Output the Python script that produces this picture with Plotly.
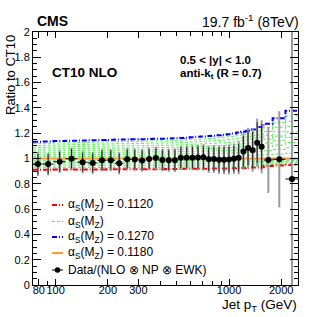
import math
import plotly.graph_objects as go

# ---------------- data ----------------
pt_edges = [74, 84, 97, 114, 133, 153, 174, 196, 220, 245, 272, 300, 330, 362, 395,
            430, 468, 507, 548, 592, 638, 686, 737, 790, 846, 905, 967, 1032, 1101,
            1172, 1248, 1327, 1410, 1497, 1588, 1784, 2116, 2500]

data_ratio = [0.956, 0.956, 0.975, 0.998, 0.971, 0.965, 0.986, 0.987, 0.962, 0.995,
              0.992, 0.985, 0.996, 1.003, 0.988, 0.987, 0.987, 1.006, 1.006, 1.006,
              1.007, 1.009, 0.994, 0.996, 0.991, 0.991, 0.992, 0.998, 1.005, 1.055,
              1.083, 1.065, 1.125, 1.093, 0.988, 0.994, 0.838]

err_total = [0.095, 0.09, 0.09, 0.09, 0.088, 0.088, 0.088, 0.088, 0.088, 0.088,
             0.088, 0.09, 0.09, 0.09, 0.09, 0.092, 0.094, 0.096, 0.098, 0.1,
             0.102, 0.105, 0.108, 0.11, 0.112, 0.115, 0.118, 0.12, 0.13, 0.145,
             0.16, 0.17, 0.19, 0.21, 0.26, 0.38, 1.5]

err_stat = [0.08, 0.077, 0.077, 0.077, 0.075, 0.075, 0.075, 0.075, 0.075, 0.075,
            0.075, 0.077, 0.077, 0.077, 0.077, 0.078, 0.08, 0.082, 0.083, 0.085,
            0.087, 0.09, 0.092, 0.094, 0.095, 0.098, 0.1, 0.102, 0.11, 0.123,
            0.136, 0.145, 0.16, 0.18, 0.0, 0.0, 0.0]

ratio_as_1120 = [.912, .912, .913, .913, .914, .914, .914, .915, .915, .915, .915, .916, .916,
                 .916, .916, .917, .917, .917, .918, .918, .918, .919, .919, .920, .920, .920,
                 .921, .922, .924, .925, .927, .928, .929, .930, .940, .945, .949]

ratio_as_1270 = [1.133, 1.135, 1.138, 1.140, 1.142, 1.144, 1.146, 1.148, 1.150, 1.151, 1.152,
                 1.153, 1.155, 1.156, 1.157, 1.158, 1.160, 1.162, 1.165, 1.168, 1.171, 1.174,
                 1.177, 1.180, 1.184, 1.188, 1.192, 1.197, 1.205, 1.212, 1.220, 1.230, 1.240,
                 1.250, 1.275, 1.318, 1.378]

ratio_as_1180 = [1.0, 1.0, 1.0, 1.0, 1.0, 1.0, 1.0, 1.0, 1.0, 1.0, 1.0, 1.0, 1.0, 1.0, 1.0,
                 1.0, 1.0, 1.0, 1.0, 1.0, 1.0, 1.0, 1.0, 1.0, 1.0, 1.0, 1.0, 1.0, 1.0, 1.0,
                 1.0, 1.0, 1.0, 1.0, 1.0, 1.0, 1.0]

ratio_as_1130 = [.927, .927, .928, .928, .928, .928, .928, .929, .929, .929, .929, .930, .930,
                 .930, .930, .931, .931, .931, .932, .932, .932, .933, .933, .933, .933, .933,
                 .934, .935, .937, .938, .939, .940, .941, .942, .950, .954, .958]
ratio_as_1140 = [.941, .941, .942, .942, .943, .943, .943, .943, .943, .943, .943, .944, .944,
                 .944, .944, .945, .945, .945, .945, .945, .945, .946, .946, .947, .947, .947,
                 .947, .948, .949, .950, .951, .952, .953, .953, .960, .963, .966]
ratio_as_1150 = [.956, .956, .957, .957, .957, .957, .957, .958, .958, .958, .958, .958, .958,
                 .958, .958, .959, .959, .959, .959, .959, .959, .960, .960, .960, .960, .960,
                 .961, .961, .962, .963, .963, .964, .965, .965, .970, .972, .975]
ratio_as_1160 = [.971, .971, .971, .971, .971, .971, .971, .972, .972, .972, .972, .972, .972,
                 .972, .972, .972, .972, .972, .973, .973, .973, .973, .973, .973, .973, .973,
                 .974, .974, .975, .975, .976, .976, .976, .977, .980, .982, .983]
ratio_as_1170 = [.985, .985, .986, .986, .986, .986, .986, .986, .986, .986, .986, .986, .986,
                 .986, .986, .986, .986, .986, .986, .986, .986, .987, .987, .987, .987, .987,
                 .987, .987, .987, .988, .988, .988, .988, .988, .990, .991, .992]
ratio_as_1190 = [1.015, 1.015, 1.015, 1.016, 1.016, 1.016, 1.016, 1.016, 1.017, 1.017, 1.017,
                 1.017, 1.017, 1.017, 1.017, 1.018, 1.018, 1.018, 1.018, 1.019, 1.019, 1.019,
                 1.020, 1.020, 1.020, 1.021, 1.021, 1.022, 1.023, 1.024, 1.024, 1.026, 1.027,
                 1.028, 1.031, 1.035, 1.042]
ratio_as_1200 = [1.030, 1.030, 1.031, 1.031, 1.032, 1.032, 1.032, 1.033, 1.033, 1.034, 1.034,
                 1.034, 1.034, 1.035, 1.035, 1.035, 1.036, 1.036, 1.037, 1.037, 1.038, 1.039,
                 1.039, 1.040, 1.041, 1.042, 1.043, 1.044, 1.046, 1.047, 1.049, 1.051, 1.053,
                 1.056, 1.061, 1.071, 1.084]
ratio_as_1210 = [1.044, 1.045, 1.046, 1.047, 1.047, 1.048, 1.049, 1.049, 1.050, 1.050, 1.051,
                 1.051, 1.052, 1.052, 1.052, 1.053, 1.053, 1.054, 1.055, 1.056, 1.057, 1.058,
                 1.059, 1.060, 1.061, 1.063, 1.064, 1.066, 1.068, 1.071, 1.073, 1.077, 1.080,
                 1.083, 1.092, 1.106, 1.126]
ratio_as_1220 = [1.059, 1.060, 1.061, 1.062, 1.063, 1.064, 1.065, 1.066, 1.067, 1.067, 1.068,
                 1.068, 1.069, 1.069, 1.070, 1.070, 1.071, 1.072, 1.073, 1.075, 1.076, 1.077,
                 1.079, 1.080, 1.082, 1.084, 1.085, 1.088, 1.091, 1.094, 1.098, 1.102, 1.107,
                 1.111, 1.122, 1.141, 1.168]
ratio_as_1230 = [1.074, 1.075, 1.077, 1.078, 1.079, 1.080, 1.081, 1.082, 1.083, 1.084, 1.084,
                 1.085, 1.086, 1.087, 1.087, 1.088, 1.089, 1.090, 1.092, 1.093, 1.095, 1.097,
                 1.098, 1.100, 1.102, 1.104, 1.107, 1.109, 1.114, 1.118, 1.122, 1.128, 1.133,
                 1.139, 1.153, 1.177, 1.210]
ratio_as_1240 = [1.089, 1.090, 1.092, 1.093, 1.095, 1.096, 1.097, 1.099, 1.100, 1.101, 1.101,
                 1.102, 1.103, 1.104, 1.105, 1.105, 1.107, 1.108, 1.110, 1.112, 1.114, 1.116,
                 1.118, 1.120, 1.123, 1.125, 1.128, 1.131, 1.137, 1.142, 1.147, 1.153, 1.160,
                 1.167, 1.183, 1.212, 1.252]
ratio_as_1250 = [1.103, 1.105, 1.107, 1.109, 1.110, 1.112, 1.114, 1.115, 1.117, 1.117, 1.118,
                 1.119, 1.121, 1.121, 1.122, 1.123, 1.124, 1.126, 1.128, 1.131, 1.133, 1.135,
                 1.138, 1.140, 1.143, 1.146, 1.149, 1.153, 1.160, 1.165, 1.171, 1.179, 1.187,
                 1.194, 1.214, 1.247, 1.294]
ratio_as_1260 = [1.118, 1.120, 1.123, 1.124, 1.126, 1.128, 1.130, 1.132, 1.133, 1.134, 1.135,
                 1.136, 1.138, 1.139, 1.140, 1.140, 1.142, 1.144, 1.147, 1.149, 1.152, 1.155,
                 1.157, 1.160, 1.164, 1.167, 1.171, 1.175, 1.182, 1.189, 1.196, 1.204, 1.213,
                 1.222, 1.244, 1.283, 1.336]

green_curves = [ratio_as_1130, ratio_as_1140, ratio_as_1150, ratio_as_1160, ratio_as_1170,
                ratio_as_1190, ratio_as_1200, ratio_as_1210, ratio_as_1220, ratio_as_1230,
                ratio_as_1240, ratio_as_1250, ratio_as_1260]

x_ticks = [80, 100, 200, 300, 1000, 2000]
x_minor = [90, 400, 500, 600, 700, 800, 900]

# ---------------- figure ----------------
FONT = "Liberation Sans, Arial, Helvetica, sans-serif"
W, H = 332, 317
L, R, T, B = 33, 34, 32, 32
PW, PH = W - L - R, H - T - B


def px(x):
    return (x - L) / PW


def py(y):
    return (H - B - y) / PH


def step(vals):
    return dict(x=pt_edges, y=list(vals) + [vals[-1]], mode="lines", line_shape="hv",
                showlegend=False, hoverinfo="skip")


fig = go.Figure()
for g in green_curves:
    fig.add_trace(go.Scatter(**step(g), line=dict(color="#55ee55", width=1, dash="3px,2px")))
fig.add_trace(go.Scatter(**step(ratio_as_1120),
                         line=dict(color="#ff0000", width=2, dash="5px,2px,1px,2px")))
fig.add_trace(go.Scatter(**step(ratio_as_1270),
                         line=dict(color="#0000ff", width=2, dash="5px,2px,1px,2px")))
fig.add_trace(go.Scatter(**step(ratio_as_1180), line=dict(color="#ff9933", width=2)))

centers = [(a + b) / 2 for a, b in zip(pt_edges[:-1], pt_edges[1:])]
halfw = [(b - a) / 2 for a, b in zip(pt_edges[:-1], pt_edges[1:])]

fig.add_trace(go.Scatter(x=centers, y=data_ratio, mode="markers",
                         marker=dict(size=0.1, color="rgba(0,0,0,0)"),
                         error_y=dict(type="data", array=err_total, color="#9a9a9a",
                                      thickness=2, width=0),
                         showlegend=False, hoverinfo="skip"))
fig.add_trace(go.Scatter(x=centers, y=data_ratio, mode="markers",
                         marker=dict(size=6, color="black"),
                         error_y=dict(type="data", array=err_stat, color="#222222",
                                      thickness=1, width=0),
                         error_x=dict(type="data", array=halfw, color="black",
                                      thickness=1, width=0),
                         showlegend=False, hoverinfo="skip"))

axis_common = dict(showline=True, linecolor="black", linewidth=1, mirror="allticks",
                   ticks="inside", tickcolor="black", showgrid=False, zeroline=False,
                   automargin=False, tickangle=0,
                   tickfont=dict(family=FONT, size=11, color="black"))

fig.update_xaxes(type="log", range=[math.log10(pt_edges[0]), math.log10(pt_edges[-1])],
                 tickvals=x_ticks, ticktext=[str(v) for v in x_ticks], ticklen=6,
                 ticklabelstandoff=-5,
                 minor=dict(tickvals=x_minor, ticks="inside", ticklen=4, tickcolor="black"),
                 **axis_common)
fig.update_yaxes(range=[0, 2], dtick=0.2, ticklen=8,
                 minor=dict(dtick=0.05, ticks="inside", ticklen=4, tickcolor="black"),
                 **axis_common)

ann = []


def text(x, y, s, size, xanchor="left", yanchor="middle", angle=0):
    ann.append(dict(x=x, y=y, xref="paper", yref="paper", text=s, showarrow=False,
                    xanchor=xanchor, yanchor=yanchor, textangle=angle,
                    font=dict(family=FONT, size=size, color="black")))


text(px(35), py(21), "<b>CMS</b>", 14)
text(px(301), py(21), "19.7 fb<sup>-1</sup> (8TeV)", 14, xanchor="right")
text(px(50), py(73), "<b>CT10 NLO</b>", 13.5)
text(px(178), py(60), "<b>0.5 &lt; |y| &lt; 1.0</b>", 11.5)
text(px(178), py(74), "<b>anti-k<sub>t</sub> (R = 0.7)</b>", 11.5)
text(px(10), py(33), "Ratio to CT10", 13, xanchor="center", yanchor="top", angle=-90)
text(px(299), py(305), "Jet p<sub>T</sub> (GeV)", 13.5, xanchor="right")

shapes = []
leg = [
    (205, "#ff0000", 2, "5px,2px,1px,2px", "α<sub>S</sub>(M<sub>Z</sub>) = 0.1120"),
    (221.5, "#55ee55", 1, "3px,2px", "α<sub>S</sub>(M<sub>Z</sub>)"),
    (237, "#0000ff", 2, "5px,2px,1px,2px", "α<sub>S</sub>(M<sub>Z</sub>) = 0.1270"),
    (253, "#ff9933", 2, "solid", "α<sub>S</sub>(M<sub>Z</sub>) = 0.1180"),
]
for yy, col, wd, dash, lab in leg:
    shapes.append(dict(type="line", xref="paper", yref="paper", x0=px(52), x1=px(63),
                       y0=py(yy), y1=py(yy), line=dict(color=col, width=wd, dash=dash)))
    text(px(66), py(yy), lab, 12)

shapes.append(dict(type="line", xref="paper", yref="paper", x0=px(52), x1=px(63),
                   y0=py(270), y1=py(270), line=dict(color="black", width=1)))
shapes.append(dict(type="circle", xref="paper", yref="paper", x0=px(54.7), x1=px(60.3),
                   y0=py(272.8), y1=py(267.2), fillcolor="black", line=dict(color="black", width=0)))
text(px(66), py(270), "Data/(NLO ⊗ NP ⊗ EWK)", 12)

fig.update_layout(width=W, height=H, margin=dict(l=L, r=R, t=T, b=B, autoexpand=False),
                  paper_bgcolor="white", plot_bgcolor="white", showlegend=False,
                  annotations=ann, shapes=shapes,
                  font=dict(family=FONT, size=11, color="black"))

fig.write_html("out.html", config={"displayModeBar": False},
               post_script="document.body.style.margin='0';document.body.style.padding='0';")
